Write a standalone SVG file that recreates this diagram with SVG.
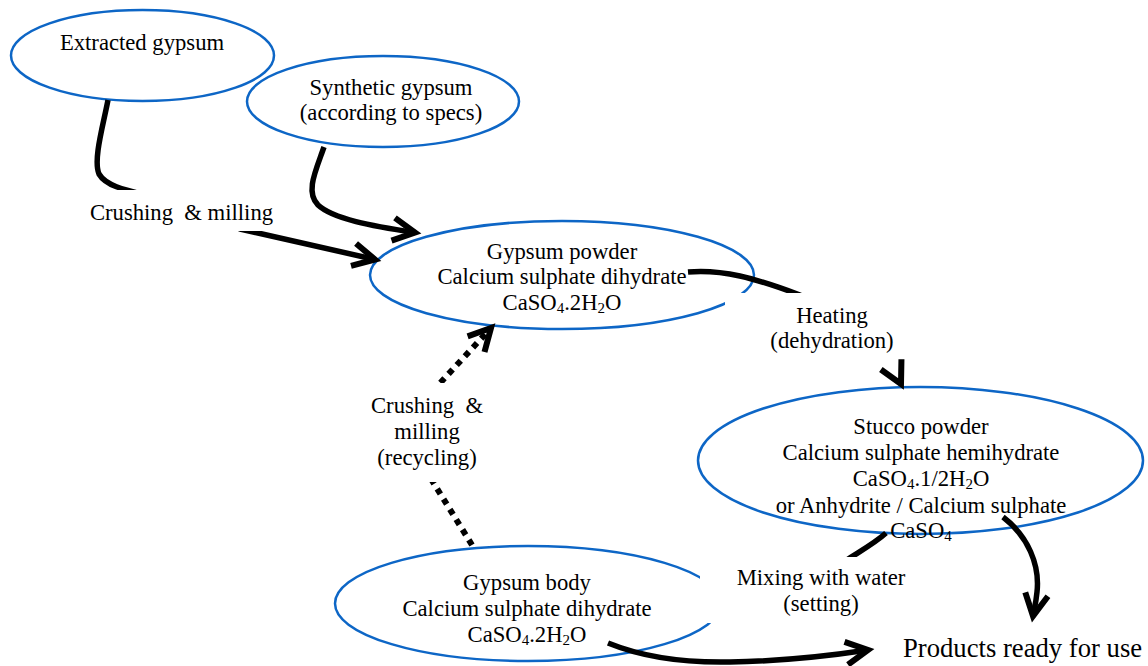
<svg xmlns="http://www.w3.org/2000/svg" width="1148" height="666" viewBox="0 0 1148 666">
<style>
.node{fill:#ffffff;stroke:#0d66c6;stroke-width:2.5}
.t{font-family:"Liberation Serif","Times New Roman",serif;font-size:22.67px;fill:#000;text-anchor:middle}
.sub{font-size:15px}
.c{fill:none;stroke:#000;stroke-width:5.5;stroke-linecap:butt;stroke-linejoin:round}
.dot{stroke-width:6;stroke-dasharray:6 6}
.bg{fill:#ffffff;stroke:none}
</style>
<defs>
<marker id="ah" markerUnits="userSpaceOnUse" viewBox="-30 -16 38 32" refX="0" refY="0" markerWidth="38" markerHeight="32" orient="auto" overflow="visible">
<path d="M-22,-11.5 L0,0 L-22,11.5" fill="none" stroke="#000" stroke-width="6" stroke-linejoin="miter" stroke-dasharray="none"/>
</marker>
</defs>
<g id="n-extracted"><ellipse class="node" cx="142.5" cy="55.5" rx="131.5" ry="45.5"/><text class="t" x="142" y="50">Extracted gypsum</text></g>
<g id="n-synthetic"><ellipse class="node" cx="383" cy="101.5" rx="136" ry="45.5"/><text class="t" x="391" y="95">Synthetic gypsum</text><text class="t" x="391" y="120">(according to specs)</text></g>
<g id="n-powder"><ellipse class="node" cx="562" cy="275" rx="192" ry="54"/><text class="t" x="562" y="259">Gypsum powder</text><text class="t" x="562" y="284">Calcium sulphate dihydrate</text><text class="t" x="562" y="310">CaSO<tspan class="sub" dy="3">4</tspan><tspan dy="-3">.2H</tspan><tspan class="sub" dy="3">2</tspan><tspan dy="-3">O</tspan></text></g>
<g id="n-stucco"><ellipse class="node" cx="920.5" cy="460.5" rx="222.5" ry="73.5"/><text class="t" x="921" y="434">Stucco powder</text><text class="t" x="921" y="460">Calcium sulphate hemihydrate</text><text class="t" x="921" y="486">CaSO<tspan class="sub" dy="3">4</tspan><tspan dy="-3">.1/2H</tspan><tspan class="sub" dy="3">2</tspan><tspan dy="-3">O</tspan></text><text class="t" x="921" y="512.5">or Anhydrite / Calcium sulphate</text><text class="t" x="921" y="538">CaSO<tspan class="sub" dy="3">4</tspan></text></g>
<g id="n-body"><ellipse class="node" cx="528" cy="603.5" rx="193" ry="57.5"/><text class="t" x="527" y="590">Gypsum body</text><text class="t" x="527" y="616">Calcium sulphate dihydrate</text><text class="t" x="527" y="641.5">CaSO<tspan class="sub" dy="3">4</tspan><tspan dy="-3">.2H</tspan><tspan class="sub" dy="3">2</tspan><tspan dy="-3">O</tspan></text></g>
<g id="n-products"><text class="t" x="903" y="656.5" style="text-anchor:start;font-size:26.67px">Products ready for use</text></g>
<g id="connectors">
<path class="c" d="M108,100 C103,126 93,160 99,174 C106,186 125,190 150,196 L240,229 L375,259.5" marker-end="url(#ah)"/>
<path class="c" d="M324,147 C316,170 305,192 318,205 C333,219 372,226 415,232.5" marker-end="url(#ah)"/>
<path class="c" d="M688,272 C722,269 755,278 800,295 L840,320 M899,380 L901,384" marker-end="url(#ah)"/>
<path class="c" d="M886,533 C875,543 862,550 845,561 L760,590 L722,600"/>
<path class="c" d="M1003,517 C1028,536 1040,565 1037,592 C1036,603 1034,610 1033,616" marker-end="url(#ah)"/>
<path class="c" d="M608,643 C640,656 680,663 730,662 C790,661 835,655 868,650" marker-end="url(#ah)"/>
<path class="c dot" d="M472,545 L428,474 Q418,440 429.5,394.5 L491,328" marker-end="url(#ah)"/>
</g>
<g id="l-crushing"><rect class="bg" x="80" y="190" width="203" height="41"/><text class="t" x="181.5" y="220" xml:space="preserve" style="white-space:pre">Crushing  &amp; milling</text></g>
<g id="l-heating"><rect class="bg" x="725" y="293" width="214" height="64"/><text class="t" x="832" y="323">Heating</text><text class="t" x="832" y="348">(dehydration)</text></g>
<g id="l-recycling"><rect class="bg" x="362" y="383" width="130" height="99"/><text class="t" x="427" y="413" xml:space="preserve" style="white-space:pre">Crushing  &amp;</text><text class="t" x="427" y="439">milling</text><text class="t" x="427" y="465">(recycling)</text></g>
<g id="l-mixing"><rect class="bg" x="700" y="557" width="242" height="66"/><text class="t" x="821" y="585">Mixing with water</text><text class="t" x="821" y="610.5">(setting)</text></g>
</svg>
